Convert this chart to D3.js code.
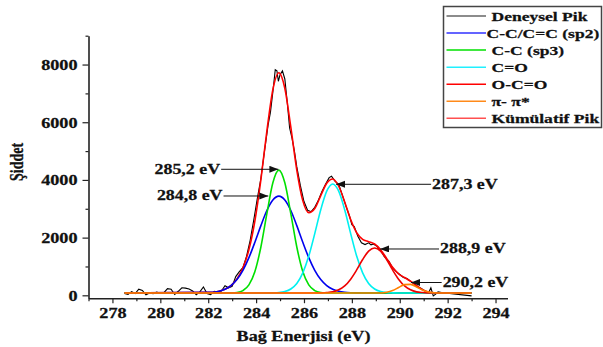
<!DOCTYPE html>
<html>
<head>
<meta charset="utf-8">
<script src="https://cdn.jsdelivr.net/npm/d3@7"></script>
<style>
  body { margin: 0; background: #fff; }
  text { font-family: "Liberation Serif", "Times New Roman", serif; font-weight: bold; fill: #111; stroke: #111; stroke-width: 0.25; }
</style>
</head>
<body>
<svg id="chart" width="603" height="347"></svg>
<script>
// energy grid used by the fitted curves (eV)
var fitEnergy = [278.5,
  282.2, 282.45, 282.7, 282.95, 283.2, 283.45, 283.7, 283.95, 284.2, 284.45, 284.7,
  284.95, 285.2, 285.45, 285.7, 285.95, 286.2, 286.45, 286.7, 286.95, 287.2, 287.45,
  287.7, 287.95, 288.2, 288.45, 288.7, 288.95, 289.2, 289.45, 289.7, 289.95, 290.2,
  290.45, 290.7, 290.95, 291.2, 291.45, 291.7, 291.95, 292.2,
  293.0];

// fitted components
var sp2Counts = [80,
  105, 140, 210, 335, 545, 865, 1305, 1840, 2415, 2940, 3305,
  3440,
  3305, 2940, 2415, 1840, 1305, 865, 545, 335, 210, 140, 105,
  90, 85,
  80, 80, 80, 80, 80, 80, 80, 80, 80, 80, 80, 80, 80, 80, 80, 80,
  80];
var sp3Counts = [80,
  80, 80, 80, 85, 100, 165, 360, 825, 1675, 2830, 3900,
  4340,
  3900, 2830, 1675, 825, 360, 165, 100, 85,
  80, 80, 80, 80, 80, 80, 80, 80, 80, 80, 80, 80, 80, 80, 80, 80, 80, 80, 80, 80, 80,
  80];
var coCounts = [80,
  80, 80, 80, 80, 80, 80, 80, 80, 80, 80,
  85, 95, 130, 220, 410, 780, 1360, 2140, 2965, 3610,
  3860,
  3610, 2965, 2140, 1360, 780, 410, 220, 130, 95, 85,
  80, 80, 80, 80, 80, 80, 80, 80, 80, 80,
  80];
var ocoCounts = [80,
  80, 80, 80, 80, 80, 80, 80, 80, 80, 80, 80, 80, 80, 80, 80, 80, 80, 80,
  85, 95, 120, 190, 325, 560, 880, 1240, 1530,
  1640,
  1530, 1240, 880, 560, 325, 190, 120, 95, 85,
  80, 80, 80, 80,
  80];
var piCounts = [80,
  80, 80, 80, 80, 80, 80, 80, 80, 80, 80, 80, 80, 80, 80,
  80, 80, 80, 80, 80, 80, 80, 80, 80, 80, 80, 80, 80, 80,
  82, 105, 163, 268, 372, 380, 291, 181, 112, 87,
  80, 80, 80,
  80];
var sumCounts = [80,
  106, 139, 208, 338, 565, 950, 1583, 2585, 4012, 5693, 7130,
  7716, 7176, 5830, 4344, 3283, 2865, 3009, 3454, 3885, 4030,
  3781, 3237, 2626, 2168, 1938, 1861, 1779, 1581, 1281, 969,
  747, 618, 489, 333, 195, 116, 88, 80, 80, 80,
  80];

// measured spectrum
var expEnergy = [278.5, 278.65, 278.8, 278.95, 279.1, 279.25, 279.4, 279.55, 279.7, 279.85,
  280.0, 280.15, 280.3, 280.45, 280.6, 280.75, 280.9, 281.05, 281.2, 281.35, 281.5, 281.65,
  281.8, 281.95, 282.1, 282.25, 282.4, 282.55, 282.7, 282.85, 283.0, 283.15, 283.3, 283.45,
  283.6, 283.75, 283.9, 284.05, 284.2, 284.35, 284.5, 284.6, 284.7, 284.8, 284.87, 284.93,
  285.0, 285.1, 285.2, 285.3, 285.4, 285.5, 285.6, 285.7, 285.85, 286.0, 286.15, 286.3,
  286.45, 286.6, 286.75, 286.9, 287.05, 287.15, 287.3, 287.45, 287.6, 287.75, 287.9, 288.0,
  288.1, 288.25, 288.4, 288.55, 288.7, 288.8, 288.9, 289.05, 289.2, 289.35, 289.45, 289.55,
  289.7, 289.85, 290.0, 290.15, 290.3, 290.45, 290.6, 290.75, 290.9, 291.05, 291.2, 291.3,
  291.4, 291.5, 291.6, 291.8, 293.0];
var expCounts = [60, 30, 130, 60, 210, 170, 20, 80, 60, 110,
  70, 90, 230, 210, 30, 140, 260, 250, 220, 150, 20, 120,
  290, 60, 20, 140, 110, 150, 330, 260, 310, 650, 820, 960,
  1350, 1900, 2600, 3350, 4050, 5000, 5900, 6350, 7050, 7820, 7780, 7420,
  7650, 7780, 7500, 6700, 5800, 5450, 5000, 4450, 3800, 3250, 2950, 2900,
  3050, 3300, 3600, 3850, 4080, 4130, 3950, 3850, 3480, 3100, 2750, 2450,
  2380, 2050, 1820, 1760, 1820, 1750, 1780, 1700, 1560, 1350, 1260, 1180,
  950, 820, 720, 620, 580, 490, 400, 300, 240, 150, 80, 260,
  -20, 40, 120, 90, -20];

var xTickLabels = [278, 280, 282, 284, 286, 288, 290, 292, 294];
var xMinorTicks = [277, 279, 281, 283, 285, 287, 289, 291, 293];
var yTickLabels = [0, 2000, 4000, 6000, 8000];
var yMinorTicks = [1000, 3000, 5000, 7000, 9000];

var legendLabels = ["Deneysel Pik", "C-C/C=C (sp2)", "C-C (sp3)", "C=O", "O-C=O", "\u03c0- \u03c0*", "K\u00fcm\u00fclatif Pik"];
var legendColors = ["#666666", "#3030ff", "#00e000", "#20f0ff", "#ff0000", "#ff8a1a", "#ff5050"];

var annLabels = ["285,2 eV", "284,8 eV", "287,3 eV", "288,9 eV", "290,2 eV"];
var annTipEnergy = [284.93, 284.51, 287.34, 289.18, 290.47];
var annTipCounts = [4369, 3443, 3849, 1606, 444];
var annTailEnergy = [282.54, 282.64, 291.31, 291.64, 291.75];

var SX = 1.3; // glyphs in the picture are drawn wide

var svg = d3.select("#chart");

var x = d3.scaleLinear().domain([277, 294.5]).range([88.5, 507.5]);
var y = d3.scaleLinear().domain([-100, 9000]).range([298.2, 35.7]);

// Arrow head
svg.append("defs").append("marker")
  .attr("id", "arrow")
  .attr("markerUnits", "userSpaceOnUse")
  .attr("markerWidth", 10).attr("markerHeight", 8)
  .attr("refX", 9).attr("refY", 3.5)
  .attr("orient", "auto")
  .append("path")
  .attr("d", "M0,0 L9,3.5 L0,7 Z")
  .attr("fill", "#111");

// Axes
var xMinorG = svg.append("g").attr("transform", "translate(0," + y(-100) + ")")
  .call(d3.axisBottom(x).tickValues(xMinorTicks).tickSize(3).tickSizeOuter(0).tickFormat(""));
xMinorG.select(".domain").remove();

var xAxisG = svg.append("g").attr("transform", "translate(0," + y(-100) + ")")
  .call(d3.axisBottom(x).tickValues(xTickLabels).tickSize(5).tickSizeOuter(0).tickFormat(d3.format("d")));

var yMinorG = svg.append("g").attr("transform", "translate(" + x(277) + ",0)")
  .call(d3.axisLeft(y).tickValues(yMinorTicks).tickSize(3).tickSizeOuter(0).tickFormat(""));
yMinorG.select(".domain").remove();

var yAxisG = svg.append("g").attr("transform", "translate(" + x(277) + ",0)")
  .call(d3.axisLeft(y).tickValues(yTickLabels).tickSize(6).tickSizeOuter(0).tickFormat(d3.format("d")));

svg.selectAll(".domain").attr("stroke", "#222").attr("stroke-width", 1.6);
svg.selectAll(".tick line").attr("stroke", "#222").attr("stroke-width", 1.2);

xAxisG.selectAll("text")
  .attr("y", 20).attr("dy", 0)
  .attr("font-size", 14)
  .attr("transform", "scale(" + SX + ",1)");

yAxisG.selectAll("text")
  .attr("x", -11 / SX).attr("dy", "0.34em")
  .attr("font-size", 14)
  .attr("transform", "scale(" + SX + ",1)");

// Axis titles
svg.append("text")
  .attr("transform", "translate(303.5,341) scale(1.25,1)")
  .attr("text-anchor", "middle")
  .attr("font-size", 14.5)
  .text("Ba\u011f Enerjisi (eV)");

svg.append("text")
  .attr("transform", "translate(23,162) rotate(-90) scale(1,1.3)")
  .attr("text-anchor", "middle")
  .attr("font-size", 14)
  .text("\u015eiddet");

// Curves
var line = d3.line()
  .x(function(d) { return x(d[0]); })
  .y(function(d) { return y(d[1]); })
  .curve(d3.curveMonotoneX);

var rawLine = d3.line()
  .x(function(d) { return x(d[0]); })
  .y(function(d) { return y(d[1]); });

var expData = expEnergy.map(function(e, i) { return [e, expCounts[i]]; });

svg.append("path")
  .datum(expData)
  .attr("fill", "none")
  .attr("stroke", "#000")
  .attr("stroke-width", 1.1)
  .attr("d", rawLine);

var fits = [
  { counts: sumCounts, color: "#ff0000" },
  { counts: sp2Counts, color: "#0000ee" },
  { counts: sp3Counts, color: "#00e000" },
  { counts: coCounts, color: "#00f0f0" },
  { counts: ocoCounts, color: "#ee0000" },
  { counts: piCounts, color: "#ff8000" }
];

fits.forEach(function(f) {
  var pts = fitEnergy.map(function(e, i) { return [e, f.counts[i]]; });
  svg.append("path")
    .datum(pts)
    .attr("fill", "none")
    .attr("stroke", f.color)
    .attr("stroke-width", 1.6)
    .attr("d", line);
});

// Peak annotations
annLabels.forEach(function(lab, i) {
  var tipX = x(annTipEnergy[i]), tipY = y(annTipCounts[i]);
  var tailX = x(annTailEnergy[i]);
  svg.append("line")
    .attr("x1", tailX).attr("y1", tipY)
    .attr("x2", tipX).attr("y2", tipY)
    .attr("stroke", "#111")
    .attr("stroke-width", 1)
    .attr("marker-end", "url(#arrow)");
  var leftSide = annTailEnergy[i] < annTipEnergy[i];
  svg.append("text")
    .attr("transform", "translate(" + (leftSide ? tailX - 1 : tailX + 1) + "," + (tipY + 4.5) + ") scale(1.28,1)")
    .attr("text-anchor", leftSide ? "end" : "start")
    .attr("font-size", 14)
    .text(lab);
});

// Legend
var legend = svg.append("g");
legend.append("rect")
  .attr("x", 443.5).attr("y", 6.5)
  .attr("width", 158).attr("height", 121)
  .attr("fill", "#fff")
  .attr("stroke", "#444")
  .attr("stroke-width", 1.5);

legendLabels.forEach(function(lab, i) {
  var cy = 16 + i * 17.05;
  legend.append("line")
    .attr("x1", 446.5).attr("x2", 486)
    .attr("y1", cy).attr("y2", cy)
    .attr("stroke", legendColors[i])
    .attr("stroke-width", 1.5);
  legend.append("text")
    .attr("transform", "translate(" + (i === 1 ? 486.5 : 491.5) + "," + (cy + 4.7) + ") scale(" + SX + ",1)")
    .attr("font-size", 13.5)
    .text(lab);
});
</script>
</body>
</html>
